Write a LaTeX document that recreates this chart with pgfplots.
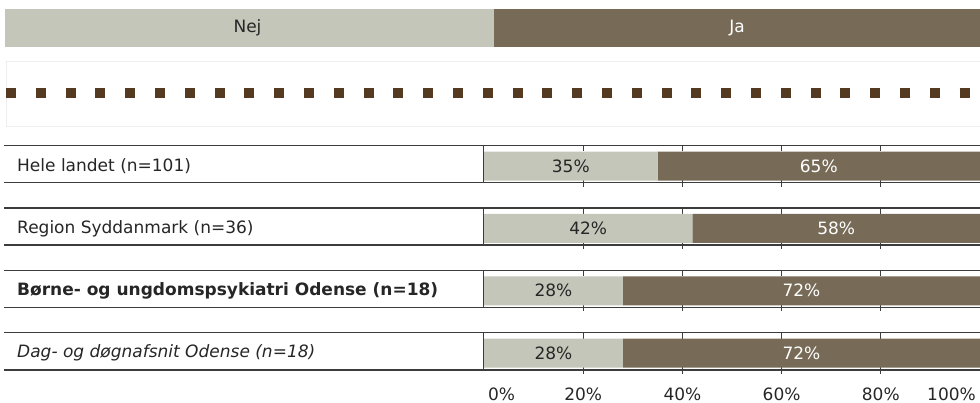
\documentclass[border=0pt]{standalone}
\usepackage{pgfplots}
\pgfplotsset{compat=1.18}
\usepackage{fontspec}
\setmainfont{DejaVu Sans}
\definecolor{nej}{HTML}{C5C6BA}
\definecolor{ja}{HTML}{776B58}
\definecolor{dotc}{HTML}{553A22}
\definecolor{linec}{HTML}{3C3C3C}
\definecolor{txt}{HTML}{262626}
\definecolor{faint}{HTML}{EEEEEE}
\begin{document}
\fontsize{17bp}{20bp}\selectfont
\begin{tikzpicture}
\path[use as bounding box] (0,0) rectangle (980bp,403bp);
\begin{scope}[x=1bp,y=-1bp,yshift=403bp]
  % legend bar
  \fill[nej] (5,9) rectangle (494,46.7);
  \fill[ja] (494,9) rectangle (980,46.7);
  \node[text=txt,inner sep=0] at (247.5,28) {Nej};
  \node[text=white,inner sep=0] at (737,28) {Ja};
  % faint box and dotted line
  \draw[faint,line width=1bp] (980,61.7) -- (6,61.7) -- (6,126.7) -- (980,126.7);
  \draw[dotc,line width=10bp,dash pattern=on 10bp off 19.8bp] (6,93.3) -- (980,93.3);
  % rows
  \foreach \k/\lab in {0/{Hele landet (n=101)},1/{Region Syddanmark (n=36)},2/{\bfseries Børne- og ungdomspsykiatri Odense (n=18)},3/{\itshape Dag- og døgnafsnit Odense (n=18)}}{
    \pgfmathsetmacro{\top}{145.5+62.4*\k}
    \pgfmathsetmacro{\bot}{\top+37.2}
    \pgfmathsetmacro{\mid}{\top+20.5}
    \foreach \t in {583.2,682.4,781.6,880.8}{
      \draw[linec,line width=1bp] (\t,\top) -- (\t,\top+6);
      \draw[linec,line width=1bp] (\t,\bot-3) -- (\t,\bot+4);
    }
    \draw[linec,line width=1.3bp] (4,\top) -- (980,\top);
    \draw[linec,line width=1.6bp] (4,\bot) -- (980,\bot);
    \draw[linec,line width=1.3bp] (483.3,\top) -- (483.3,\bot);
    \node[anchor=west,inner sep=0,text=txt] at (17,\mid) {\lab};
  }
\end{scope}
\begin{axis}[
  at={(484bp,403bp)}, anchor=origin,
  scale only axis, width=496bp, height=403bp,
  xmin=0, xmax=100, ymin=0, ymax=403, y dir=reverse,
  hide axis, clip=false,
  xbar stacked, bar width=29bp,
]
\addplot[fill=nej, draw=none] coordinates {(35,166) (42,228.4) (28,290.8) (28,353.2)};
\addplot[fill=ja, draw=none] coordinates {(65,166) (58,228.4) (72,290.8) (72,353.2)};
% tick labels
\node[text=txt,inner sep=0,anchor=west] at (axis cs:0.8,394) {0\%};
\node[text=txt,inner sep=0] at (axis cs:20,394) {20\%};
\node[text=txt,inner sep=0] at (axis cs:40,394) {40\%};
\node[text=txt,inner sep=0] at (axis cs:60,394) {60\%};
\node[text=txt,inner sep=0] at (axis cs:80,394) {80\%};
\node[text=txt,inner sep=0,anchor=east] at (axis cs:99.2,394) {100\%};
\coordinate (v1a) at (axis cs:17.5,166);
\coordinate (v1b) at (axis cs:67.5,166);
\coordinate (v2a) at (axis cs:21,228.4);
\coordinate (v2b) at (axis cs:71,228.4);
\coordinate (v3a) at (axis cs:14,290.8);
\coordinate (v3b) at (axis cs:64,290.8);
\coordinate (v4a) at (axis cs:14,353.2);
\coordinate (v4b) at (axis cs:64,353.2);
\end{axis}
% value labels on top of the bars
\node[text=txt,inner sep=0] at (v1a) {35\%};
\node[text=white,inner sep=0] at (v1b) {65\%};
\node[text=txt,inner sep=0] at (v2a) {42\%};
\node[text=white,inner sep=0] at (v2b) {58\%};
\node[text=txt,inner sep=0] at (v3a) {28\%};
\node[text=white,inner sep=0] at (v3b) {72\%};
\node[text=txt,inner sep=0] at (v4a) {28\%};
\node[text=white,inner sep=0] at (v4b) {72\%};
\end{tikzpicture}
\end{document}
